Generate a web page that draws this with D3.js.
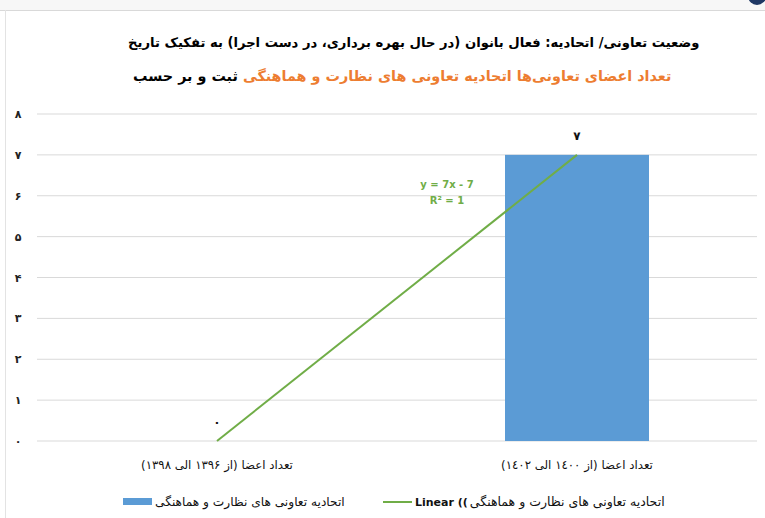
<!DOCTYPE html>
<html>
<head>
<meta charset="utf-8">
<script src="https://cdn.jsdelivr.net/npm/d3@7"></script>
<style>
  body { margin: 0; background: #fff; }
  text { font-family: "DejaVu Sans", sans-serif; }
</style>
</head>
<body>
<div id="chart"></div>
<script>
// data
let categories = ['تعداد اعضا (از ۱۳۹۶ الی ۱۳۹۸)', 'تعداد اعضا (از ١٤٠٠ الی ١٤٠٢)'];
let values = [0, 7];
let valueLabels = ['۰', '۷'];
let yTicks = [0, 1, 2, 3, 4, 5, 6, 7, 8];
let yTickLabels = ['۰', '۱', '۲', '۳', '۴', '۵', '۶', '۷', '۸'];
let seriesName = 'اتحادیه تعاونی های نظارت و هماهنگی';
let titleLine1 = 'وضعیت تعاونی/ اتحادیه: فعال بانوان (در حال بهره برداری، در دست اجرا) به تفکیک تاریخ';
let titleLine2a = 'ثبت و بر حسب';
let titleLine2b = 'تعداد اعضای تعاونی‌ها اتحادیه تعاونی های نظارت و هماهنگی';

let W = 765, H = 518;
let margin = { top: 114, right: 8, bottom: 77, left: 37 };
let width = W - margin.left - margin.right;
let height = H - margin.top - margin.bottom;

let svg = d3.select('#chart')
  .append('svg')
  .attr('width', W)
  .attr('height', H);

// rtl text: size it to a target width, then place its left edge
function fitText(sel, targetWidth) {
  let fs = +sel.attr('font-size');
  let w = sel.node().getComputedTextLength();
  sel.attr('font-size', fs * targetWidth / w);
  return sel;
}
function placeLeft(sel, left) {
  let w = sel.node().getComputedTextLength();
  sel.attr('text-anchor', 'middle').attr('x', left + w / 2);
  return w;
}
function rtlText(parent, y, size, color, bold, str) {
  return parent.append('text')
    .attr('y', y)
    .attr('direction', 'rtl')
    .attr('text-anchor', 'middle')
    .attr('font-size', size)
    .attr('font-weight', bold ? 'bold' : 'normal')
    .attr('fill', color)
    .text(str);
}

// frame like the slide around the chart
svg.append('rect').attr('x', 0).attr('y', 0).attr('width', W).attr('height', 10).attr('fill', '#f7f7f7');
svg.append('line').attr('x1', 0).attr('x2', W).attr('y1', 10.5).attr('y2', 10.5).attr('stroke', '#d9d9d9');
svg.append('line').attr('x1', 5.5).attr('x2', 5.5).attr('y1', 10).attr('y2', H).attr('stroke', '#e3e3e3');
svg.append('circle').attr('cx', 757).attr('cy', -4).attr('r', 9).attr('fill', '#1f3864');

// title
let t1 = rtlText(svg, 47, 14, '#000', true, titleLine1);
fitText(t1, 572);
placeLeft(t1, 128);

// second line: orange part sits on the right, black part on the left
let t2 = svg.append('text')
  .attr('y', 81)
  .attr('direction', 'rtl')
  .attr('text-anchor', 'middle')
  .attr('font-size', 14)
  .attr('font-weight', 'bold');
t2.append('tspan').attr('fill', '#ED7D31').text(titleLine2b);
t2.append('tspan').attr('fill', '#000').text(' ' + titleLine2a);
fitText(t2, 539);
placeLeft(t2, 133);

let g = svg.append('g')
  .attr('transform', 'translate(' + margin.left + ',' + margin.top + ')');

let x = d3.scaleBand()
  .domain(categories)
  .range([0, width])
  .paddingInner(0.6)
  .paddingOuter(0.3);

let y = d3.scaleLinear()
  .domain([0, 8])
  .range([height, 0]);

// gridlines
g.append('g')
  .selectAll('line')
  .data(yTicks)
  .enter().append('line')
  .attr('x1', 0).attr('x2', width)
  .attr('y1', d => y(d)).attr('y2', d => y(d))
  .attr('stroke', '#d9d9d9')
  .attr('stroke-width', 1);

// y labels
g.append('g')
  .selectAll('text')
  .data(yTicks)
  .enter().append('text')
  .attr('x', -19)
  .attr('y', d => y(d) + 4)
  .attr('text-anchor', 'middle')
  .attr('font-size', 11)
  .attr('font-weight', 'bold')
  .attr('fill', '#222')
  .text((d, i) => yTickLabels[i]);

// bars
g.append('g')
  .selectAll('rect')
  .data(values)
  .enter().append('rect')
  .attr('x', (d, i) => x(categories[i]))
  .attr('y', d => y(d))
  .attr('width', x.bandwidth())
  .attr('height', d => height - y(d))
  .attr('fill', '#5B9BD5');

// linear trendline (least squares over category index 1..n)
let xs = values.map((d, i) => i + 1);
let mx = d3.mean(xs), my = d3.mean(values);
let slope = d3.sum(xs, (xv, i) => (xv - mx) * (values[i] - my)) / d3.sum(xs, xv => (xv - mx) * (xv - mx));
let intercept = my - slope * mx;
let cx = i => x(categories[i]) + x.bandwidth() / 2;

g.append('path')
  .datum(xs)
  .attr('d', d3.line()
    .x((xv, i) => cx(i))
    .y(xv => y(slope * xv + intercept)))
  .attr('fill', 'none')
  .attr('stroke', '#70AD47')
  .attr('stroke-width', 2);

// trend equation
let eq = g.append('text')
  .attr('x', 410)
  .attr('y', y(6.2))
  .attr('text-anchor', 'middle')
  .attr('font-size', 10)
  .attr('font-weight', 'bold')
  .attr('fill', '#70AD47');
eq.append('tspan').attr('x', 410).text('y = ' + slope + 'x - ' + Math.abs(intercept));
eq.append('tspan').attr('x', 410).attr('dy', 16).text('R² = 1');

// data labels
g.append('g')
  .selectAll('text')
  .data(values)
  .enter().append('text')
  .attr('x', (d, i) => cx(i))
  .attr('y', d => y(d) - 15)
  .attr('text-anchor', 'middle')
  .attr('font-size', 12)
  .attr('font-weight', 'bold')
  .attr('fill', '#111')
  .text((d, i) => valueLabels[i]);

// category labels
g.append('g')
  .selectAll('text')
  .data(categories)
  .enter().append('text')
  .attr('x', (d, i) => cx(i))
  .attr('y', height + 28)
  .attr('text-anchor', 'middle')
  .attr('direction', 'rtl')
  .attr('font-size', 11)
  .attr('fill', '#111')
  .text(d => d)
  .each(function() { fitText(d3.select(this), 152); });

// legend
let ly = 502;
svg.append('rect')
  .attr('x', 123).attr('y', ly - 4)
  .attr('width', 29).attr('height', 7)
  .attr('fill', '#5B9BD5');
let l1 = rtlText(svg, ly + 4, 11, '#111', false, seriesName);
fitText(l1, 190);
placeLeft(l1, 155);

svg.append('line')
  .attr('x1', 383).attr('x2', 412)
  .attr('y1', ly).attr('y2', ly)
  .attr('stroke', '#70AD47')
  .attr('stroke-width', 2);
let lin = svg.append('text')
  .attr('x', 415).attr('y', ly + 4)
  .attr('text-anchor', 'start')
  .attr('font-size', 11)
  .attr('font-weight', 'bold')
  .attr('font-family', 'Roboto, sans-serif')
  .attr('fill', '#111')
  .text('Linear ((');
let linW = lin.node().getComputedTextLength();
let l2 = rtlText(svg, ly + 4, 11, '#111', false, seriesName);
fitText(l2, 195);
placeLeft(l2, 415 + linW + 2);
</script>
</body>
</html>
